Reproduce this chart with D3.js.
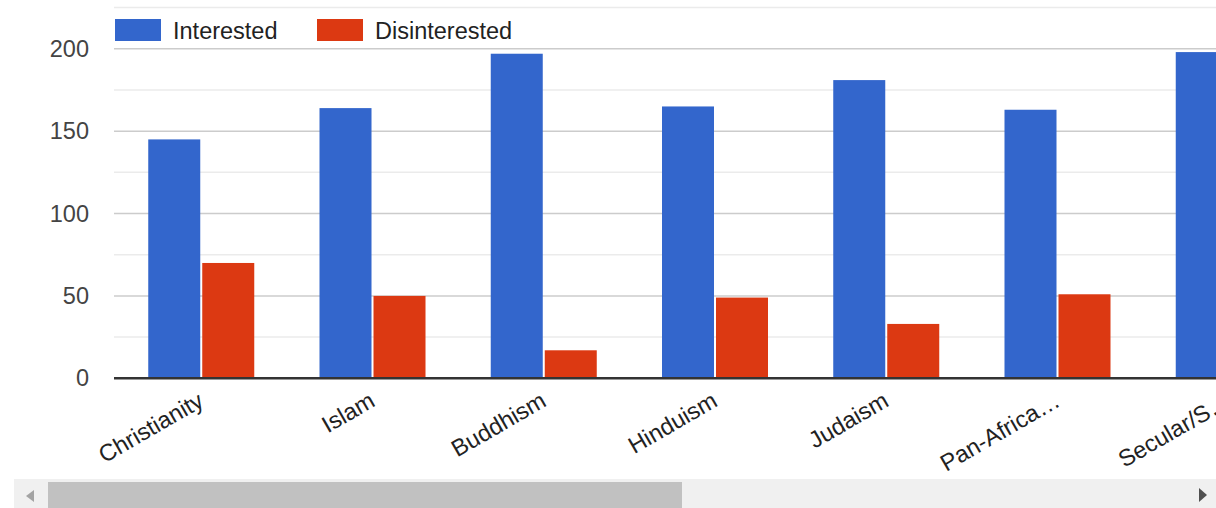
<!DOCTYPE html>
<html>
<head>
<meta charset="utf-8">
<script src="https://cdn.jsdelivr.net/npm/d3@7"></script>
<style>
  body { margin: 0; background: #fff; }
  svg { display: block; font-family: "Liberation Sans", Arial, sans-serif; }
</style>
</head>
<body>
<script>
// data
const categories = ["Christianity", "Islam", "Buddhism", "Hinduism", "Judaism", "Pan-Africa\u2026", "Secular/S\u2026"];
const series = ["Interested", "Disinterested"];
const interested = [145, 164, 197, 165, 181, 163, 198];
const disinterested = [70, 50, 17, 49, 33, 51, null]; // last one is scrolled out of view
const yTicks = [0, 50, 100, 150, 200];
const yMinorTicks = [25, 75, 125, 175, 225];

const colors = {Interested: "#3366cc", Disinterested: "#dc3912"};
const fontSize = "23.5px";

const canvWidth = 1216, canvHeight = 508;
const svg = d3.select("body").append("svg")
  .attr("width", canvWidth)
  .attr("height", canvHeight);

const plotLeft = 114, plotRight = canvWidth;
const y = d3.scaleLinear().domain([0, 225]).range([378.3, 7.6]);

// category bands run past the right edge (chart is scrollable)
const x = d3.scaleBand().domain(categories)
  .range([plotLeft, plotLeft + 1202])
  .paddingInner(0.381).paddingOuter(0.2);
const xInner = d3.scaleBand().domain(series)
  .range([0, x.bandwidth()]).paddingInner(0.037);

const rows = categories.map((c, i) => ({cat: c, Interested: interested[i], Disinterested: disinterested[i]}));

svg.append("clipPath").attr("id", "plotclip")
  .append("rect").attr("x", 0).attr("y", 0).attr("width", canvWidth).attr("height", 478);

// gridlines
const grid = svg.append("g");
grid.selectAll("line.minor").data(yMinorTicks).join("line")
  .attr("class", "minor")
  .attr("x1", plotLeft).attr("x2", plotRight)
  .attr("y1", d => y(d)).attr("y2", d => y(d))
  .attr("stroke", "#ebebeb").attr("stroke-width", 1.5);
grid.selectAll("line.major").data(yTicks.filter(d => d > 0)).join("line")
  .attr("class", "major")
  .attr("x1", plotLeft).attr("x2", plotRight)
  .attr("y1", d => y(d)).attr("y2", d => y(d))
  .attr("stroke", "#cccccc").attr("stroke-width", 1.5);

// y axis labels
const yAxis = svg.append("g").attr("transform", "translate(89,0)")
  .call(d3.axisLeft(y).tickValues(yTicks).tickSize(0).tickPadding(0));
yAxis.select(".domain").remove();
yAxis.selectAll("text")
  .attr("font-size", fontSize).attr("fill", "#444").attr("font-family", "Liberation Sans, Arial, sans-serif");

// bars
const bars = svg.append("g").attr("clip-path", "url(#plotclip)");
const groups = bars.selectAll("g").data(rows).join("g")
  .attr("transform", d => "translate(" + x(d.cat) + ",0)");
groups.selectAll("rect")
  .data(d => series.filter(s => d[s] != null).map(s => ({key: s, value: d[s]})))
  .join("rect")
  .attr("x", d => xInner(d.key))
  .attr("width", xInner.bandwidth())
  .attr("y", d => y(d.value))
  .attr("height", d => y(0) - y(d.value))
  .attr("fill", d => colors[d.key]);

// baseline
svg.append("line")
  .attr("x1", plotLeft).attr("x2", plotRight)
  .attr("y1", y(0)).attr("y2", y(0))
  .attr("stroke", "#333").attr("stroke-width", 2.5);

// x axis labels, rotated
const xAxis = svg.append("g").attr("transform", "translate(0," + y(0) + ")")
  .call(d3.axisBottom(x).tickSize(0).tickPadding(0));
xAxis.select(".domain").remove();
xAxis.selectAll("text")
  .attr("font-size", fontSize).attr("fill", "#222").attr("font-family", "Liberation Sans, Arial, sans-serif")
  .attr("text-anchor", "end")
  .attr("dy", null)
  .attr("transform", "translate(4,27) rotate(-30)");

// legend
const legend = svg.append("g");
const legendX = [115, 317];
series.forEach((s, i) => {
  legend.append("rect").attr("x", legendX[i]).attr("y", 19)
    .attr("width", 46).attr("height", 22).attr("fill", colors[s]);
  legend.append("text").text(s).attr("x", legendX[i] + 58).attr("y", 38.5)
    .attr("font-size", fontSize).attr("fill", "#222");
});

// scrollbar
const sb = svg.append("g");
sb.append("rect").attr("x", 14).attr("y", 479).attr("width", canvWidth - 14).attr("height", 29).attr("fill", "#f0f0f0");
sb.append("rect").attr("x", 48).attr("y", 482).attr("width", 634).attr("height", 26).attr("fill", "#c1c1c1");
sb.append("path").attr("d", "M34,490 L26,496 L34,502 Z").attr("fill", "#a3a3a3");
sb.append("path").attr("d", "M1199,488 L1207,495 L1199,502 Z").attr("fill", "#505050");
</script>
</body>
</html>
